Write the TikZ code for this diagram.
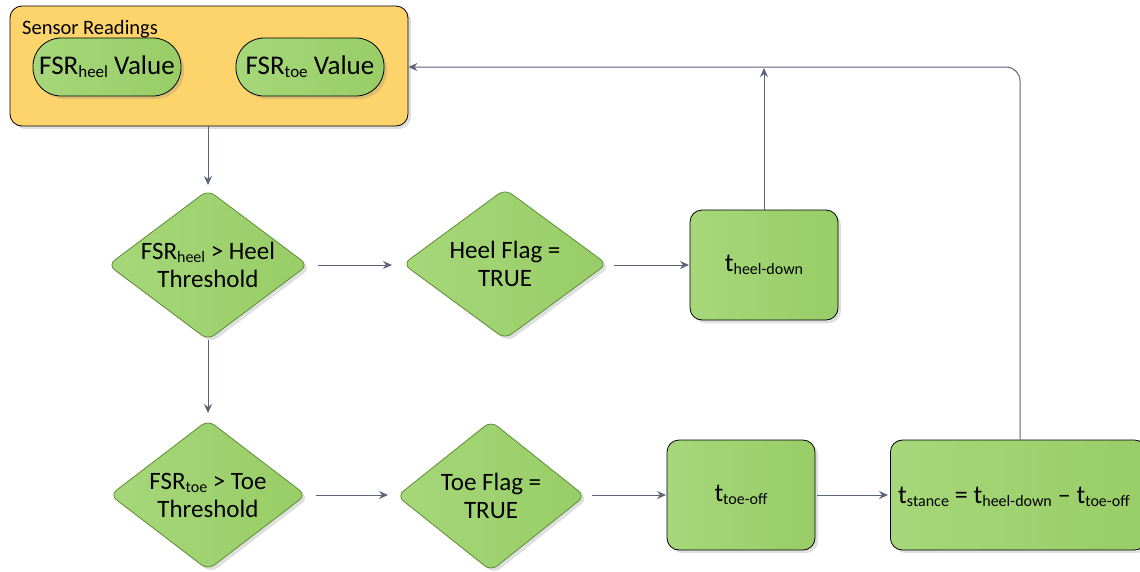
\documentclass[tikz,border=0pt]{standalone}
\usepackage{fontspec}
\setmainfont{Carlito}
\usetikzlibrary{shapes.geometric,arrows.meta,shadows}
\definecolor{boxorange}{HTML}{FDD36C}
\definecolor{gfill}{HTML}{98CD66}
\definecolor{gfillL}{HTML}{A6D77A}
\definecolor{gedge}{HTML}{5E8E34}
\definecolor{arr}{HTML}{5B6478}
\newcommand\lo[2][16]{\raisebox{-0.25ex}{\fontsize{#1}{#1}\selectfont #2}}
\tikzset{
  shd/.style={drop shadow={opacity=0.25,shadow xshift=3pt,shadow yshift=-3pt}},
  pill/.style={draw=black,line width=0.8pt,rounded corners=28pt,minimum width=148pt,minimum height=58pt,
    left color=gfillL,right color=gfill,shd,font=\fontsize{27}{30}\selectfont,inner sep=0pt},
  decis/.style={diamond,draw=gedge,line width=0.8pt,rounded corners=8pt,minimum width=200pt,minimum height=150pt,
    left color=gfillL,right color=gfill,shd,inner sep=0pt},
  dtext/.style={align=center,font=\fontsize{25}{28}\selectfont,inner sep=0pt},
  tbox/.style={draw=black,line width=0.8pt,rounded corners=12pt,minimum width=148pt,minimum height=110pt,
    left color=gfillL,right color=gfill,shd,font=\fontsize{26}{30}\selectfont,inner sep=0pt},
  con/.style={draw=arr,line width=1pt,-{Stealth[length=9pt,width=8pt]}},
}
\begin{document}
\begin{tikzpicture}[x=1pt,y=-1pt]
\useasboundingbox (0,0) rectangle (1140,571);
\clip (0,0) rectangle (1140,571);
% sensor box
\node[draw=black,line width=0.8pt,rounded corners=12pt,fill=boxorange,minimum width=398pt,minimum height=120pt,shd] (sens) at (209,66) {};
\node[anchor=west,font=\fontsize{20.5}{22}\selectfont,inner sep=0pt] (senst) at (22,29) {Sensor Readings};
\node[pill] (p1) at (107,67) {FSR\lo[17]{heel} Value};
\node[pill] (p2) at (310,67) {FSR\lo[17]{toe} Value};
% decisions
\node[decis,minimum width=200pt] (d1) at (208,265) {};
\node[dtext] (d1t) at (d1.center) {FSR\lo{heel} > Heel\\Threshold};
\node[decis,minimum width=204pt] (d2) at (505,264) {};
\node[dtext] (d2t) at (d2.center) {Heel Flag =\\TRUE};
\node[decis,minimum width=196pt] (d3) at (208,495) {};
\node[dtext] (d3t) at (d3.center) {FSR\lo{toe} > Toe\\Threshold};
\node[decis,minimum width=188pt] (d4) at (491,496) {};
\node[dtext] (d4t) at (d4.center) {Toe Flag =\\TRUE};
% time boxes
\node[tbox] (hd) at (764,265) {t\lo{heel-down}};
\node[tbox] (to) at (741,495) {t\lo{toe-off}};
\node[tbox,minimum width=256pt,anchor=west] (st) at (890,495) {};
\node[font=\fontsize{26}{30}\selectfont,anchor=west,inner sep=0pt] (stt) at (898,497) {t\lo{stance} = t\lo{heel-down} -- t\lo{toe-off}};
% connectors
\coordinate (c1) at (208,185);
\coordinate (c2) at (208,413);
\draw[con] (sens.south -| c1) -- (c1);
\draw[con] (d1.south) -- (c2);
\draw[con] (318,265) -- (392,265);
\draw[con] (614,265) -- (689,265);
\coordinate (up) at (764,68);
\draw[con] (hd.north) -- (up);
\draw[con] (316,495) -- (388,495);
\draw[con] (592,495) -- (666,495);
\draw[con] (817,495) -- (888,495);
\coordinate (corner) at (1020,67);
\draw[con,rounded corners=14pt] (st.north -| corner) -- (corner) -- (sens.east |- corner);
\end{tikzpicture}
\end{document}
